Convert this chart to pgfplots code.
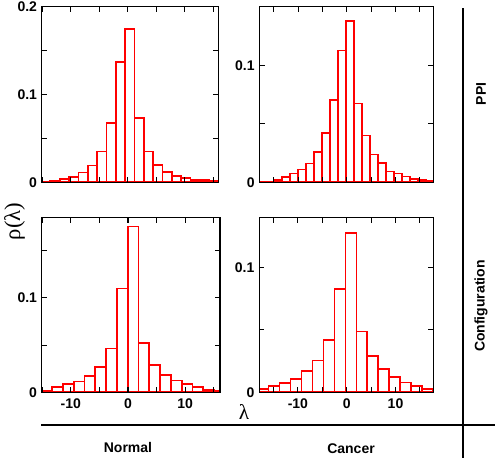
\documentclass[border=0pt]{standalone}
\usepackage{fontspec}
\setmainfont{Liberation Sans}
\newfontfamily\grk{Liberation Serif}
\usepackage{pgfplots}
\pgfplotsset{compat=1.18}

\pgfplotsset{
  panel/.style={
    scale only axis, anchor=south west, axis on top,
    axis line style={line width=0.8pt},
    tick style={black, line width=0.8pt},
    major tick length=4pt, minor tick length=4pt,
    xtick={-10,0,10}, minor xtick={-15,-5,5,15},
    xticklabels={-10,0,10},
    ymin=0,
    ticklabel style={font=\bfseries\fontsize{10.5}{12}\selectfont},
    xticklabel style={yshift=-1.5pt},
  },
  hist/.style={ybar, bar shift=0pt, bar width=#1, draw=red, fill=white, line width=1.3pt},
}

\begin{document}
\begin{tikzpicture}
\useasboundingbox (0,0) rectangle (373.5pt,-343.5pt);

% top left: PPI, normal
\begin{axis}[panel, at={(31.28pt,-136.7pt)}, width=132.6pt, height=131.5pt,
  xmin=-15.11, xmax=15.94, ymax=0.2,
  ytick={0,0.1,0.2}, yticklabels={0,0.1,0.2}, minor ytick={0.05,0.15},
  xticklabels={}]
\addplot[hist=1.64] coordinates {
(-14.41,0.0008) (-12.77,0.0015) (-11.13,0.0034) (-9.49,0.0057) (-7.85,0.011)
(-6.21,0.019) (-4.57,0.035) (-2.93,0.068) (-1.29,0.137) (0.35,0.175)
(1.99,0.073) (3.63,0.035) (5.27,0.0195) (6.91,0.0115) (8.55,0.0073)
(10.19,0.005) (11.83,0.003) (13.47,0.0023) (15.11,0.0011)
};
\end{axis}

% top right: PPI, cancer
\begin{axis}[panel, at={(194.5pt,-136.7pt)}, width=130.5pt, height=131.7pt,
  xmin=-17.95, xmax=17.78, ymax=0.15,
  ytick={0,0.1}, yticklabels={0,0.1}, minor ytick={0.05,0.15},
  xticklabels={}]
\addplot[hist=1.643] coordinates {
(-17.45,0.0003) (-15.81,0.0006) (-14.17,0.0017) (-12.52,0.0043) (-10.88,0.0074)
(-9.24,0.011) (-7.60,0.016) (-5.95,0.026) (-4.31,0.042) (-2.67,0.070)
(-1.02,0.1126) (0.62,0.138) (2.27,0.0674) (3.91,0.040) (5.55,0.0237)
(7.19,0.0166) (8.84,0.0091) (10.48,0.0074) (12.12,0.0049) (13.76,0.0031)
(15.41,0.0017) (17.05,0.0014)
};
\end{axis}

% bottom left: configuration, normal
\begin{axis}[panel, at={(31.28pt,-294.2pt)}, width=133.7pt, height=131.25pt,
  xmin=-15.1, xmax=16.1, ymax=0.1855,
  ytick={0,0.1}, yticklabels={0,0.1}, minor ytick={0.05,0.15}]
\addplot[hist=1.89] coordinates {
(-14.225,0.002) (-12.335,0.0053) (-10.445,0.0085) (-8.555,0.0113) (-6.665,0.017)
(-4.775,0.0265) (-2.885,0.0463) (-0.995,0.110) (0.895,0.1756) (2.785,0.0523)
(4.675,0.029) (6.565,0.018) (8.455,0.0124) (10.345,0.0085) (12.235,0.0053)
(14.125,0.0028) (16.015,0.001)
};
\end{axis}

% bottom right: configuration, cancer
\begin{axis}[panel, at={(194.3pt,-294.2pt)}, width=130.9pt, height=131.25pt,
  xmin=-17.95, xmax=17.8, ymax=0.1404,
  ytick={0,0.1}, yticklabels={0,0.1}, minor ytick={0.05}]
\addplot[hist=2.25] coordinates {
(-17.145,0.0027) (-14.895,0.0048) (-12.645,0.0072) (-10.395,0.0104) (-8.145,0.0168)
(-5.895,0.0254) (-3.645,0.042) (-1.395,0.083) (0.855,0.128) (3.105,0.0487)
(5.355,0.0294) (7.605,0.0187) (9.855,0.012) (12.105,0.0078) (14.355,0.0053)
(16.605,0.0029)
};
\end{axis}

% frame lines and labels
\draw[line width=1pt] (30.75pt,-318.75pt) -- (371.25pt,-318.75pt);
\draw[line width=1pt] (347.25pt,-6pt) -- (347.25pt,-343.5pt);
\node[rotate=90, font=\grk\fontsize{17}{20}\selectfont] at (11pt,-166pt) {ρ(λ)};
\node[font=\grk\fontsize{16}{19}\selectfont] at (183pt,-309pt) {λ};
\node[font=\bfseries\fontsize{10.5}{12}\selectfont] at (96pt,-335.25pt) {Normal};
\node[font=\bfseries\fontsize{10.5}{12}\selectfont] at (263.25pt,-336.75pt) {Cancer};
\node[rotate=90, font=\bfseries\fontsize{10.5}{12}\selectfont] at (360.75pt,-70.5pt) {PPI};
\node[rotate=90, font=\bfseries\fontsize{10.5}{12}\selectfont] at (360.75pt,-229.5pt) {Configuration};
\end{tikzpicture}
\end{document}
